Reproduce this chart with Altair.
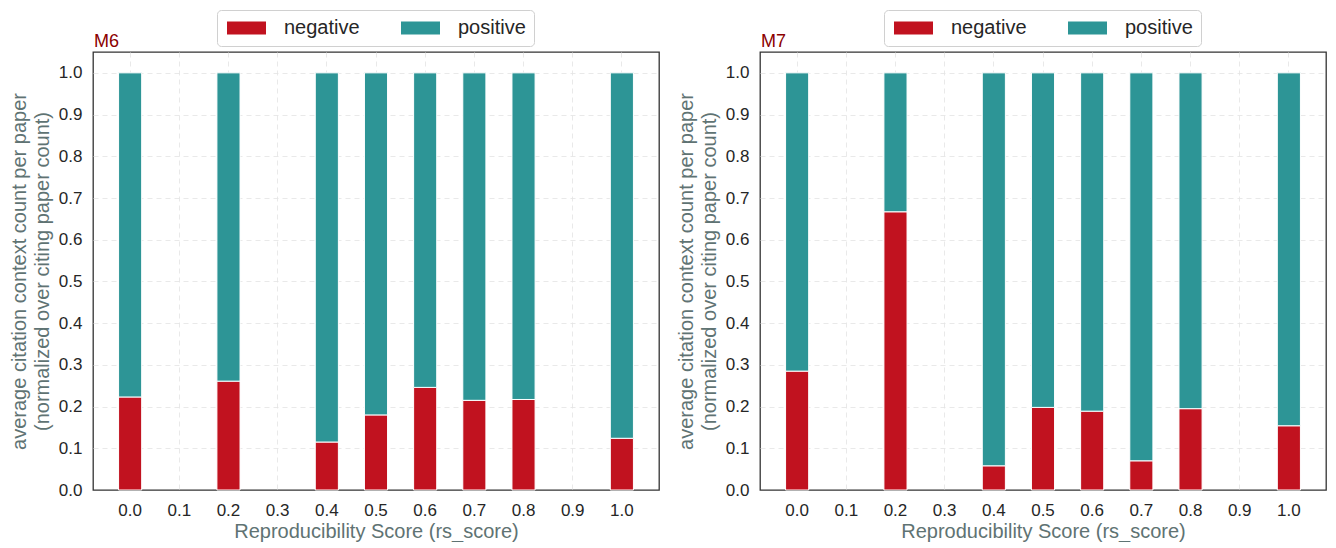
import altair as alt
import pandas as pd

# ---- data ----
scores = ["0.0", "0.1", "0.2", "0.3", "0.4", "0.5", "0.6", "0.7", "0.8", "0.9", "1.0"]
present = ["0.0", "0.2", "0.4", "0.5", "0.6", "0.7", "0.8", "1.0"]

m6_negative = [0.223, 0.261, 0.115, 0.180, 0.246, 0.215, 0.217, 0.124]
m6_positive = [0.777, 0.739, 0.885, 0.820, 0.754, 0.785, 0.783, 0.876]

m7_negative = [0.285, 0.667, 0.058, 0.198, 0.189, 0.070, 0.195, 0.154]
m7_positive = [0.715, 0.333, 0.942, 0.802, 0.811, 0.930, 0.805, 0.846]

sentiments = ["negative", "positive"]
colors = ["#c1121f", "#2d9596"]
y_ticks = [0.0, 0.1, 0.2, 0.3, 0.4, 0.5, 0.6, 0.7, 0.8, 0.9, 1.0]
panel_names = ["M6", "M7"]

FONT = "Liberation Sans"
TITLE_GRAY = "#5f7373"
TEXT = "#262626"
W, H = 566, 438


def make_df(neg, pos):
    rows = []
    for s, n, p in zip(present, neg, pos):
        rows.append({"score": s, "sentiment": "negative", "value": n, "ord": 0})
        rows.append({"score": s, "sentiment": "positive", "value": p, "ord": 1})
    return pd.DataFrame(rows)


def panel(name, neg, pos):
    df = make_df(neg, pos)
    bars = (
        alt.Chart(df)
        .mark_bar(stroke="white", strokeWidth=1)
        .encode(
            x=alt.X(
                "score:O",
                scale=alt.Scale(domain=scores, paddingInner=0.53, paddingOuter=0.52),
                axis=alt.Axis(
                    title="Reproducibility Score (rs_score)",
                    labelAngle=0,
                    ticks=False,
                    domain=False,
                    grid=True,
                    bandPosition=0.5,
                    gridColor="#e3e3e3",
                    gridDash=[5, 4],
                    gridWidth=0.8,
                    labelFontSize=17,
                    labelColor=TEXT,
                    labelPadding=12,
                    titleFontSize=20,
                    titleFontWeight="normal",
                    titleColor=TITLE_GRAY,
                    titlePadding=3,
                ),
            ),
            y=alt.Y(
                "value:Q",
                stack="zero",
                scale=alt.Scale(domain=[0, 1.05], nice=False),
                axis=alt.Axis(
                    values=y_ticks,
                    format=".1f",
                    title=[
                        "average citation context count per paper",
                        "(normalized over citing paper count)",
                    ],
                    ticks=False,
                    domain=False,
                    grid=True,
                    gridColor="#e3e3e3",
                    gridDash=[5, 4],
                    gridWidth=0.8,
                    gridOpacity={"condition": {"test": "datum.value === 0", "value": 0}, "value": 1},
                    labelFontSize=17,
                    labelColor=TEXT,
                    labelPadding=11,
                    titleFontSize=20,
                    titleFontWeight="normal",
                    titleColor=TITLE_GRAY,
                    titlePadding=6,
                    titleLineHeight=23,
                ),
            ),
            color=alt.Color(
                "sentiment:N",
                scale=alt.Scale(domain=sentiments, range=colors),
                legend=alt.Legend(
                    title=None,
                    orient="none",
                    legendX=124,
                    legendY=-42,
                    direction="horizontal",
                    symbolType="M-0.8,-0.65L3.1,-0.65L3.1,0.65L-0.8,0.65Z",
                    symbolSize=400,
                    symbolStrokeWidth=0,
                    labelFontSize=20,
                    labelColor=TEXT,
                    labelOffset=39,
                    columnPadding=39,
                    padding=8,
                    strokeColor="#d0d0d0",
                    fillColor="white",
                    cornerRadius=4,
                ),
            ),
            order=alt.Order("ord:Q"),
        )
    )
    label = (
        alt.Chart(pd.DataFrame({"name": [name]}))
        .mark_text(
            align="left",
            baseline="alphabetic",
            fontSize=18,
            color="#8b0000",
            font=FONT,
        )
        .encode(x=alt.value(1), y=alt.value(-5), text="name:N")
    )
    return alt.layer(bars, label).properties(width=W, height=H)


left = panel(panel_names[0], m6_negative, m6_positive)
right = panel(panel_names[1], m7_negative, m7_positive)

chart = (
    alt.hconcat(left, right, spacing=15)
    .resolve_scale(color="independent")
    .resolve_legend(color="independent")
    .properties(padding={"left": 0, "top": 0, "right": 0, "bottom": 0})
    .configure(font=FONT)
    .configure_view(stroke="#333333", strokeWidth=1.3)
)

chart.save("out.html", embed_options={"renderer": "svg", "actions": False})
